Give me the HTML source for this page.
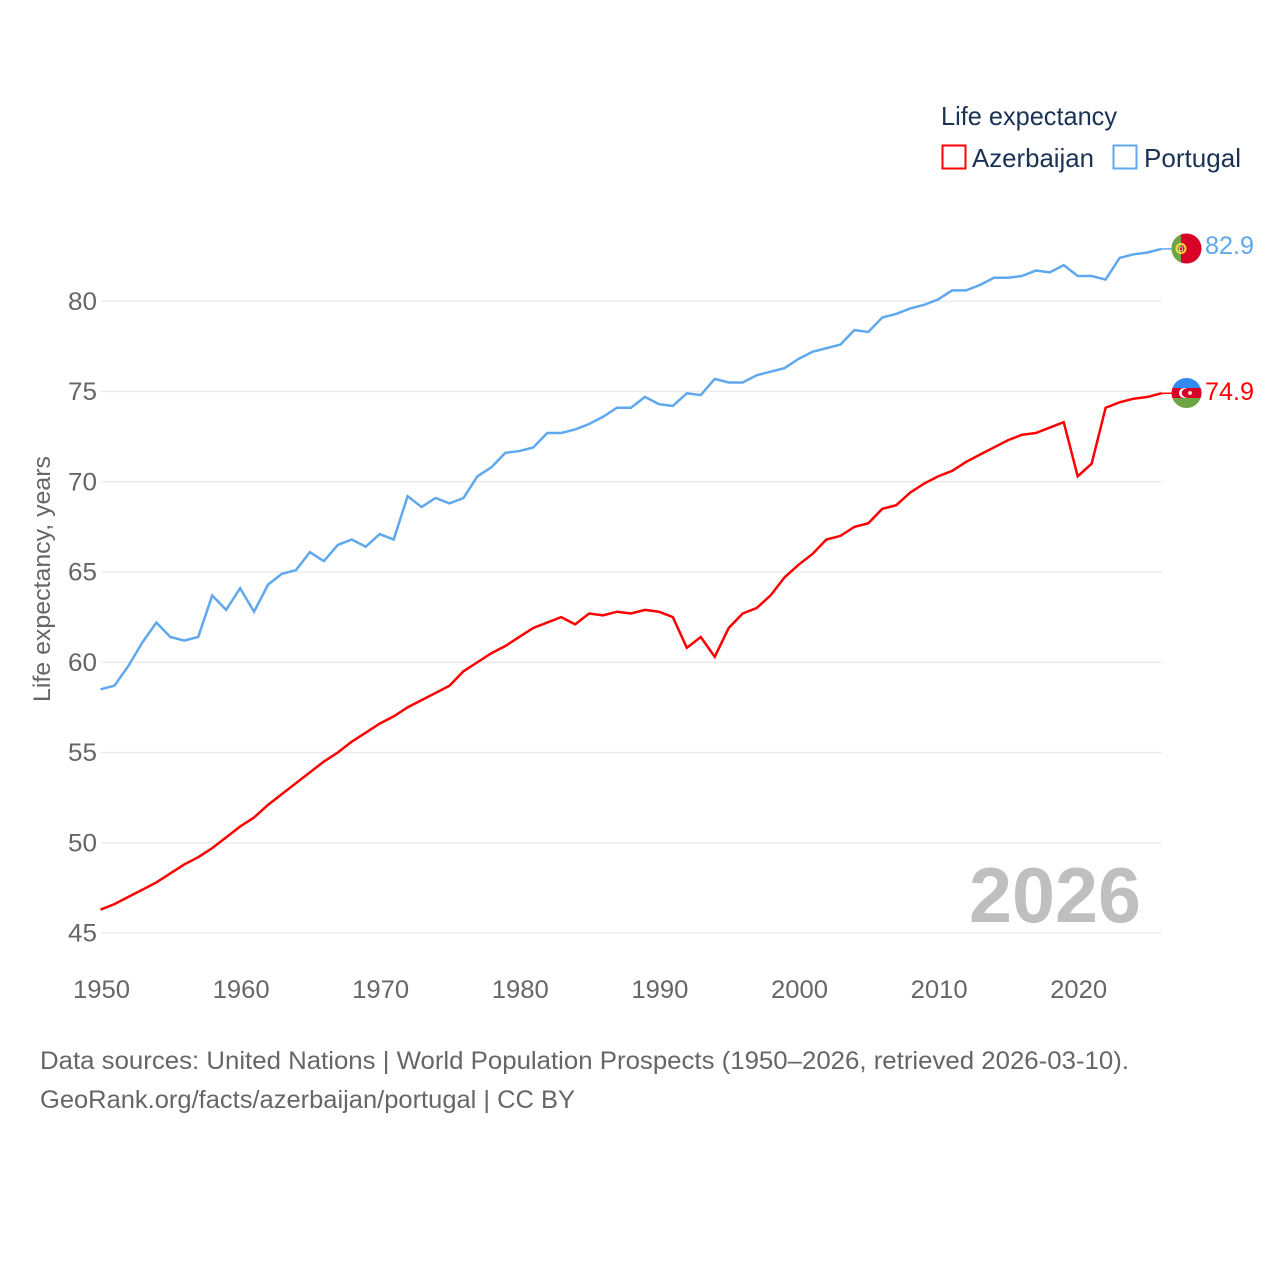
<!DOCTYPE html>
<html lang="en">
<head>
<meta charset="utf-8">
<title>Life expectancy: Azerbaijan and Portugal</title>
<style>
html,body{margin:0;padding:0;background:#fff;width:1280px;height:1280px;overflow:hidden}
svg{display:block}
text{font-family:"Liberation Sans",sans-serif}
</style>
</head>
<body>
<svg id="chart" xmlns="http://www.w3.org/2000/svg" width="1280" height="1280" viewBox="0 0 1280 1280">
  <defs>
    <clipPath id="clip-pt"><circle cx="1186.5" cy="248.5" r="15"/></clipPath>
    <clipPath id="clip-az"><circle cx="1186.5" cy="393" r="15"/></clipPath>
  </defs>
  <g id="grid"></g>
  <g id="yticks"></g>
  <g id="xticks"></g>
  <text transform="translate(50,579) rotate(-90)" text-anchor="middle" font-size="24" fill="#666" textLength="246" lengthAdjust="spacingAndGlyphs">Life expectancy, years</text>
  <text x="969" y="922" font-size="78" font-weight="700" fill="#bfbfbf" textLength="172" lengthAdjust="spacingAndGlyphs">2026</text>
  <g id="series"></g>

  <g clip-path="url(#clip-pt)">
    <rect x="1171" y="233" width="31" height="31" fill="#d80027"/>
    <rect x="1171" y="233" width="10" height="31" fill="#6da544"/>
    <circle cx="1181" cy="248.5" r="4.5" fill="none" stroke="#ffda44" stroke-width="2"/>
    <rect x="1179.5" y="247" width="3" height="3.5" fill="#d80027" stroke="#fff" stroke-width=".6"/>
  </g>
  <g clip-path="url(#clip-az)">
    <rect x="1171" y="378" width="31" height="10" fill="#338af3"/>
    <rect x="1171" y="388" width="31" height="10" fill="#d80027"/>
    <rect x="1171" y="398" width="31" height="10" fill="#6da544"/>
    <circle cx="1184" cy="393" r="5" fill="#fff"/>
    <circle cx="1185.8" cy="393" r="4.1" fill="#d80027"/>
    <circle cx="1190" cy="393" r="2" fill="#f5dcdc"/>
  </g>
  <text id="label-pt" x="1205" y="254" font-size="25" fill="#5fa8ee" textLength="49" lengthAdjust="spacingAndGlyphs"></text>
  <text id="label-az" x="1205" y="400" font-size="25" fill="#ff0000" textLength="49" lengthAdjust="spacingAndGlyphs"></text>

  <g>
    <text x="941" y="125" font-size="26" fill="#1a3355" textLength="176" lengthAdjust="spacingAndGlyphs">Life expectancy</text>
    <g>
      <rect x="942.5" y="145.5" width="23" height="23" fill="#fff" stroke="#ff0000" stroke-width="2"/>
      <text x="972" y="167" font-size="26" fill="#1a3355" textLength="122" lengthAdjust="spacingAndGlyphs">Azerbaijan</text>
    </g>
    <g>
      <rect x="1113.5" y="145.5" width="23" height="23" fill="#fff" stroke="#5fa8ee" stroke-width="2"/>
      <text x="1144" y="167" font-size="26" fill="#1a3355" textLength="97" lengthAdjust="spacingAndGlyphs">Portugal</text>
    </g>
  </g>

  <text x="40" y="1069" font-size="25" fill="#666" textLength="1089" lengthAdjust="spacingAndGlyphs">Data sources: United Nations | World Population Prospects (1950–2026, retrieved 2026-03-10).</text>
  <text x="40" y="1108" font-size="25" fill="#666" textLength="535" lengthAdjust="spacingAndGlyphs">GeoRank.org/facts/azerbaijan/portugal | CC BY</text>
</svg>
<script>
var startYear = 1950;
var yTickValues = [45, 50, 55, 60, 65, 70, 75, 80];
var xTickValues = [1950, 1960, 1970, 1980, 1990, 2000, 2010, 2020];
var portugalValues = [
  58.5, 58.7, 59.8, 61.1, 62.2, 61.4, 61.2, 61.4, 63.7, 62.9,
  64.1, 62.8, 64.3, 64.9, 65.1, 66.1, 65.6, 66.5, 66.8, 66.4,
  67.1, 66.8, 69.2, 68.6, 69.1, 68.8, 69.1, 70.3, 70.8, 71.6,
  71.7, 71.9, 72.7, 72.7, 72.9, 73.2, 73.6, 74.1, 74.1, 74.7,
  74.3, 74.2, 74.9, 74.8, 75.7, 75.5, 75.5, 75.9, 76.1, 76.3,
  76.8, 77.2, 77.4, 77.6, 78.4, 78.3, 79.1, 79.3, 79.6, 79.8,
  80.1, 80.6, 80.6, 80.9, 81.3, 81.3, 81.4, 81.7, 81.6, 82.0,
  81.4, 81.4, 81.2, 82.4, 82.6, 82.7, 82.9
];
var azerbaijanValues = [
  46.3, 46.6, 47.0, 47.4, 47.8, 48.3, 48.8, 49.2, 49.7, 50.3,
  50.9, 51.4, 52.1, 52.7, 53.3, 53.9, 54.5, 55.0, 55.6, 56.1,
  56.6, 57.0, 57.5, 57.9, 58.3, 58.7, 59.5, 60.0, 60.5, 60.9,
  61.4, 61.9, 62.2, 62.5, 62.1, 62.7, 62.6, 62.8, 62.7, 62.9,
  62.8, 62.5, 60.8, 61.4, 60.3, 61.9, 62.7, 63.0, 63.7, 64.7,
  65.4, 66.0, 66.8, 67.0, 67.5, 67.7, 68.5, 68.7, 69.4, 69.9,
  70.3, 70.6, 71.1, 71.5, 71.9, 72.3, 72.6, 72.7, 73.0, 73.3,
  70.3, 71.0, 74.1, 74.4, 74.6, 74.7, 74.9
];

var NS = 'http://www.w3.org/2000/svg';
function xScale(year) { return 100.5 + (year - 1950) * 13.96; }
function yScale(v) { return 933 - (v - 45) * 18.05; }
var plotRight = xScale(2026);

var grid = document.getElementById('grid');
var yticks = document.getElementById('yticks');
var xticks = document.getElementById('xticks');
var seriesGroup = document.getElementById('series');

yTickValues.forEach(function (v) {
  var line = document.createElementNS(NS, 'line');
  
  
  line.setAttribute('x1', 101);
  line.setAttribute('x2', plotRight);
  line.setAttribute('y1', yScale(v));
  line.setAttribute('y2', yScale(v));
  line.setAttribute('stroke', '#e8e8e8');
  line.setAttribute('stroke-width', '1.2');
  grid.appendChild(line);

  var t = document.createElementNS(NS, 'text');
  
  
  t.setAttribute('x', 97);
  t.setAttribute('y', yScale(v) + 8.5);
  t.setAttribute('text-anchor', 'end');
  t.setAttribute('font-size', '25');
  t.setAttribute('fill', '#666');
  t.setAttribute('textLength', '29');
  t.setAttribute('lengthAdjust', 'spacingAndGlyphs');
  t.textContent = v;
  yticks.appendChild(t);
});

xTickValues.forEach(function (y) {
  var t = document.createElementNS(NS, 'text');
  
  
  t.setAttribute('x', xScale(y) + 1);
  t.setAttribute('y', 998);
  t.setAttribute('text-anchor', 'middle');
  t.setAttribute('font-size', '25');
  t.setAttribute('fill', '#666');
  t.setAttribute('textLength', '57');
  t.setAttribute('lengthAdjust', 'spacingAndGlyphs');
  t.textContent = y;
  xticks.appendChild(t);
});

function drawSeries(values, color, key) {
  var pts = values.map(function (v, i) {
    return xScale(startYear + i).toFixed(2) + ',' + yScale(v).toFixed(2);
  }).join(' ');
  var path = document.createElementNS(NS, 'polyline');
  
  
  path.setAttribute('points', pts);
  path.setAttribute('fill', 'none');
  path.setAttribute('stroke', color);
  path.setAttribute('stroke-width', '2.5');
  path.setAttribute('stroke-linejoin', 'miter');
  seriesGroup.appendChild(path);

  var last = values[values.length - 1];
  var link = document.createElementNS(NS, 'line');
  
  
  link.setAttribute('x1', plotRight);
  link.setAttribute('x2', plotRight + 10);
  link.setAttribute('y1', yScale(last));
  link.setAttribute('y2', yScale(last));
  link.setAttribute('stroke', color);
  link.setAttribute('stroke-width', '1.5');
  seriesGroup.appendChild(link);
}

drawSeries(azerbaijanValues, '#ff0000', 'azerbaijan');
drawSeries(portugalValues, '#5fa8ee', 'portugal');

document.getElementById('label-pt').textContent = portugalValues[portugalValues.length - 1].toFixed(1);
document.getElementById('label-az').textContent = azerbaijanValues[azerbaijanValues.length - 1].toFixed(1);
</script>
</body>
</html>
